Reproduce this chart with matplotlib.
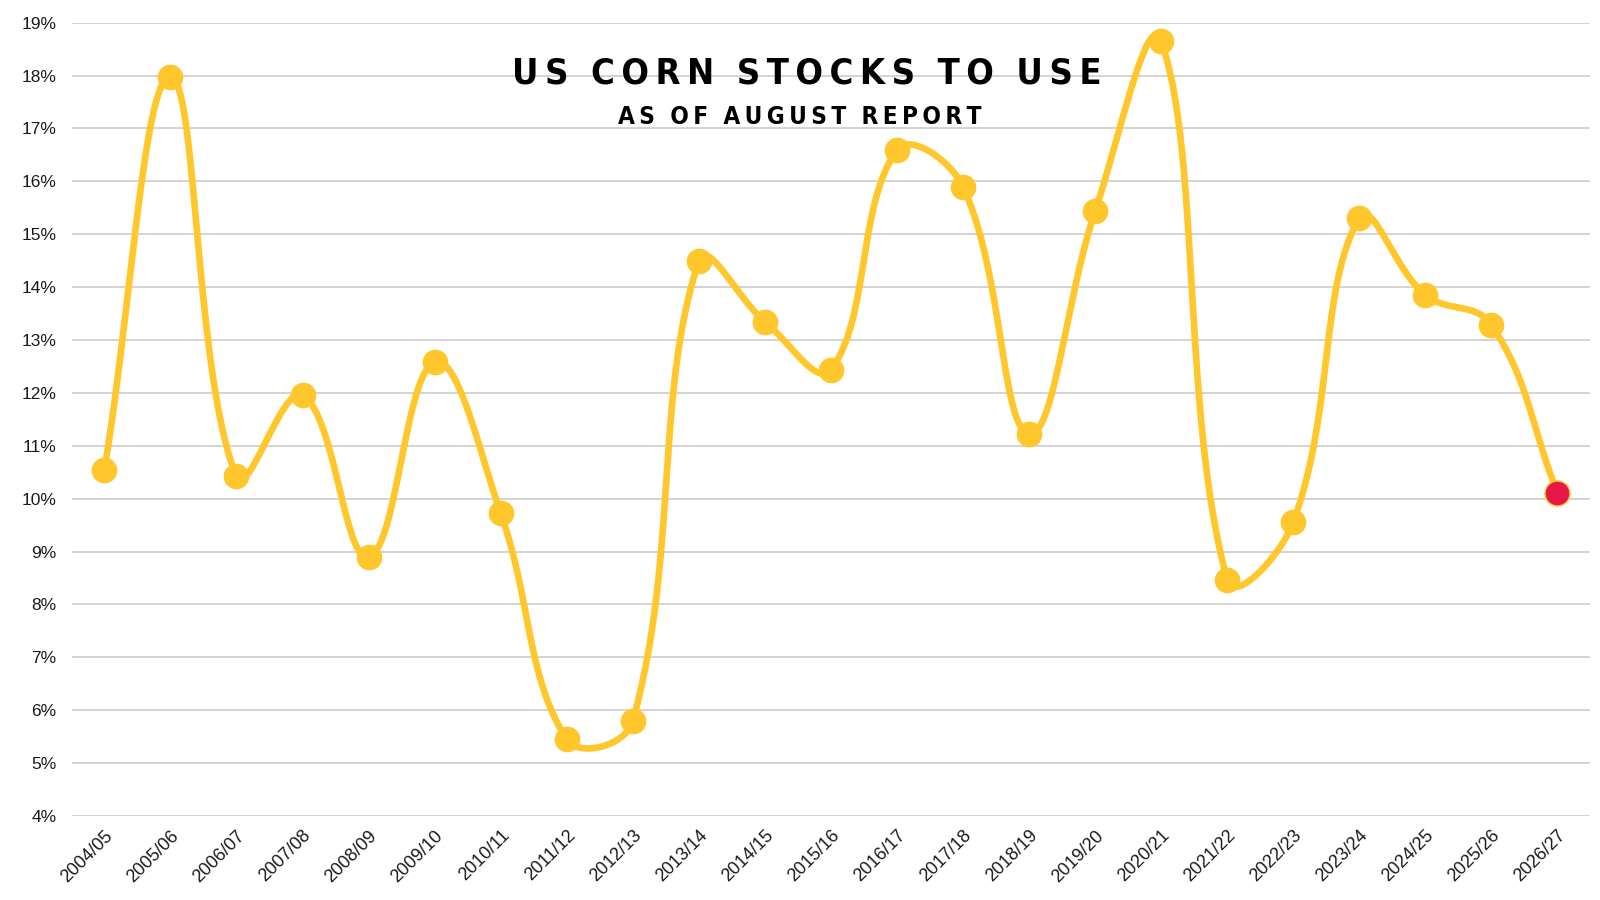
import matplotlib
matplotlib.use('Agg')
import matplotlib.pyplot as plt
from matplotlib import font_manager
import numpy as np

# US corn stocks to use, as of August report
seasons = ['2004/05', '2005/06', '2006/07', '2007/08', '2008/09', '2009/10',
           '2010/11', '2011/12', '2012/13', '2013/14', '2014/15', '2015/16',
           '2016/17', '2017/18', '2018/19', '2019/20', '2020/21', '2021/22',
           '2022/23', '2023/24', '2024/25', '2025/26', '2026/27']
stocks_to_use = [10.55, 17.98, 10.42, 11.96, 8.90, 12.58,
                 9.73, 5.45, 5.79, 14.49, 13.35, 12.44,
                 16.59, 15.90, 11.23, 15.43, 18.65, 8.47,
                 9.55, 15.30, 13.85, 13.29, 10.11]
y_ticks = list(range(4, 20))
title = 'US CORN STOCKS TO USE'
subtitle = 'AS OF AUGUST REPORT'

yellow = '#FFC72C'
red = '#E8174A'

# narrow bold font for the title if one is around
title_props = dict(family=['DejaVu Sans'], fontstretch='condensed')
try:
    f = font_manager.findfont(font_manager.FontProperties(family='DejaVu Sans', stretch='condensed',
                                                          weight='bold'), fallback_to_default=False)
    condensed_ok = 'Condensed' in f
except Exception:
    condensed_ok = False
if not condensed_ok:
    title_props = dict(family=['Roboto', 'DejaVu Sans'])


def spaced(s):
    # wide letter spacing: thin space between letters, wider gap between words
    return '  '.join('\u2009'.join(w) for w in s.split(' '))


fig = plt.figure(figsize=(16, 9), dpi=100)
ax = fig.add_axes([0.045, 0.0933, 0.949, 0.8815])

x = np.arange(len(seasons))
y = np.array(stocks_to_use)

# smooth line like a bezier spline with tension 0.4 (done in pixel-like units)
sx, sy = 66.1, 52.9
px, py = x * sx, y * sy
t = 0.4
n = len(px)
cp_prev = np.zeros((n, 2))
cp_next = np.zeros((n, 2))
for i in range(n):
    p0 = np.array([px[max(i - 1, 0)], py[max(i - 1, 0)]])
    p1 = np.array([px[i], py[i]])
    p2 = np.array([px[min(i + 1, n - 1)], py[min(i + 1, n - 1)]])
    d01 = np.hypot(*(p1 - p0))
    d12 = np.hypot(*(p2 - p1))
    s01 = d01 / (d01 + d12) if d01 + d12 else 0
    s12 = d12 / (d01 + d12) if d01 + d12 else 0
    cp_prev[i] = p1 - t * s01 * (p2 - p0)
    cp_next[i] = p1 + t * s12 * (p2 - p0)

curve_x, curve_y = [], []
u = np.linspace(0, 1, 40)
for i in range(n - 1):
    a = np.array([px[i], py[i]])
    b = cp_next[i]
    c = cp_prev[i + 1]
    d = np.array([px[i + 1], py[i + 1]])
    pts = ((1 - u) ** 3)[:, None] * a + (3 * (1 - u) ** 2 * u)[:, None] * b \
        + (3 * (1 - u) * u ** 2)[:, None] * c + (u ** 3)[:, None] * d
    curve_x.extend(pts[:, 0] / sx)
    curve_y.extend(pts[:, 1] / sy)

ax.plot(curve_x, curve_y, color=yellow, lw=4.8, solid_capstyle='round', zorder=3)
ax.plot(x[:-1], y[:-1], 'o', color=yellow, markersize=18.5, markeredgewidth=0, zorder=4)
ax.plot(x[-1:], y[-1:], 'o', color=red, markersize=18, markeredgecolor=yellow,
        markeredgewidth=1, zorder=4)

ax.set_xlim(-0.49, len(seasons) - 0.5)
ax.set_ylim(4, 19)
ax.set_yticks(y_ticks)
ax.set_yticklabels([f'{v}%' for v in y_ticks], fontsize=12.5,
                   family=['Liberation Sans', 'DejaVu Sans'], color='#1a1a1a')
ax.set_xticks(x)
ax.set_xticklabels(seasons, rotation=45, ha='right', va='top', rotation_mode='anchor',
                   fontsize=13, family=['Liberation Sans', 'DejaVu Sans'], color='#1a1a1a')
ax.tick_params(axis='y', length=0, pad=11)
ax.tick_params(axis='x', length=0, pad=8)
ax.grid(axis='y', color='#c8c8c8', lw=1.1)
ax.set_axisbelow(True)
for s in ax.spines.values():
    s.set_visible(False)

fig.text(0.504, 1 - 83 / 900, spaced(title), ha='center', va='baseline',
         fontsize=26, fontweight='bold', **title_props)
fig.text(0.5, 1 - 124 / 900, spaced(subtitle), ha='center', va='baseline',
         fontsize=17.5, fontweight='bold', **title_props)

fig.savefig('out.png', dpi=100, facecolor='white')
